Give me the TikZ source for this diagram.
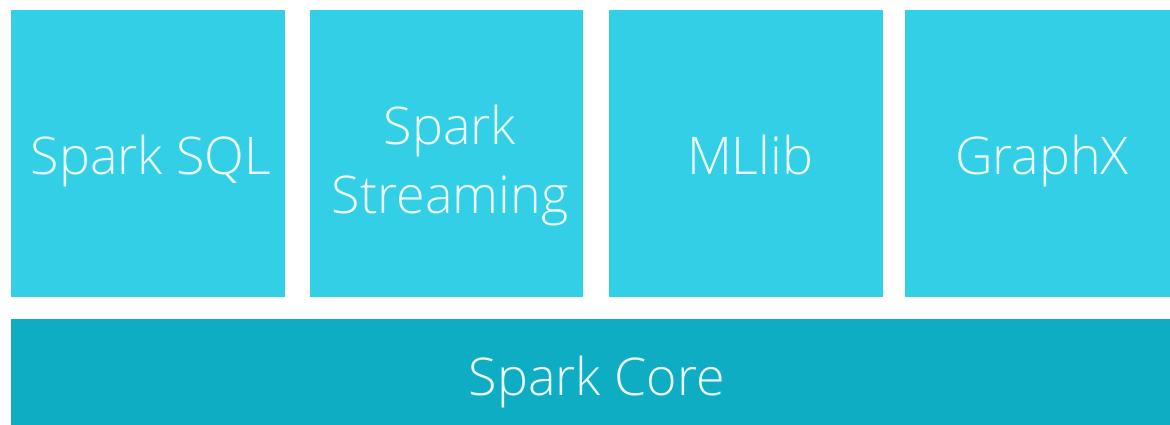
\documentclass[tikz,border=0pt]{standalone}
\usepackage{fontspec}
\setmainfont{Open Sans Light}
\definecolor{topc}{RGB}{51,207,230}
\definecolor{corec}{RGB}{14,173,196}
\definecolor{txtc}{RGB}{236,252,255}
\begin{document}
\begin{tikzpicture}[x=1pt,y=-1pt,
  blk/.style={fill=topc,draw=none,inner sep=0pt},
  core/.style={blk,fill=corec},
  lbl/.style={text=txtc,inner sep=0pt,anchor=base,font=\fontsize{52}{68}\selectfont}]
\useasboundingbox[fill=white] (0,0) rectangle (1170,425);
\node[blk,minimum width=274pt,minimum height=287pt] (sql) at (148,153.5) {};
\node[blk,minimum width=273pt,minimum height=287pt] (stream) at (446.5,153.5) {};
\node[blk,minimum width=274pt,minimum height=287pt] (ml) at (746,153.5) {};
\node[blk,minimum width=265pt,minimum height=287pt] (gx) at (1037.5,153.5) {};
\node[core,minimum width=1159pt,minimum height=106pt] (core) at (590.5,372) {};
\node[lbl] (tsql) at (151,175) {Spark SQL};
\node[lbl] (tst1) at (450,145) {Spark};
\node[lbl] (tst2) at (450,213) {Streaming};
\node[lbl] (tml) at (750,175) {MLlib};
\node[lbl] (tgx) at (1042,175) {GraphX};
\node[lbl] (tcore) at (597,395) {Spark Core};
\end{tikzpicture}
\end{document}
